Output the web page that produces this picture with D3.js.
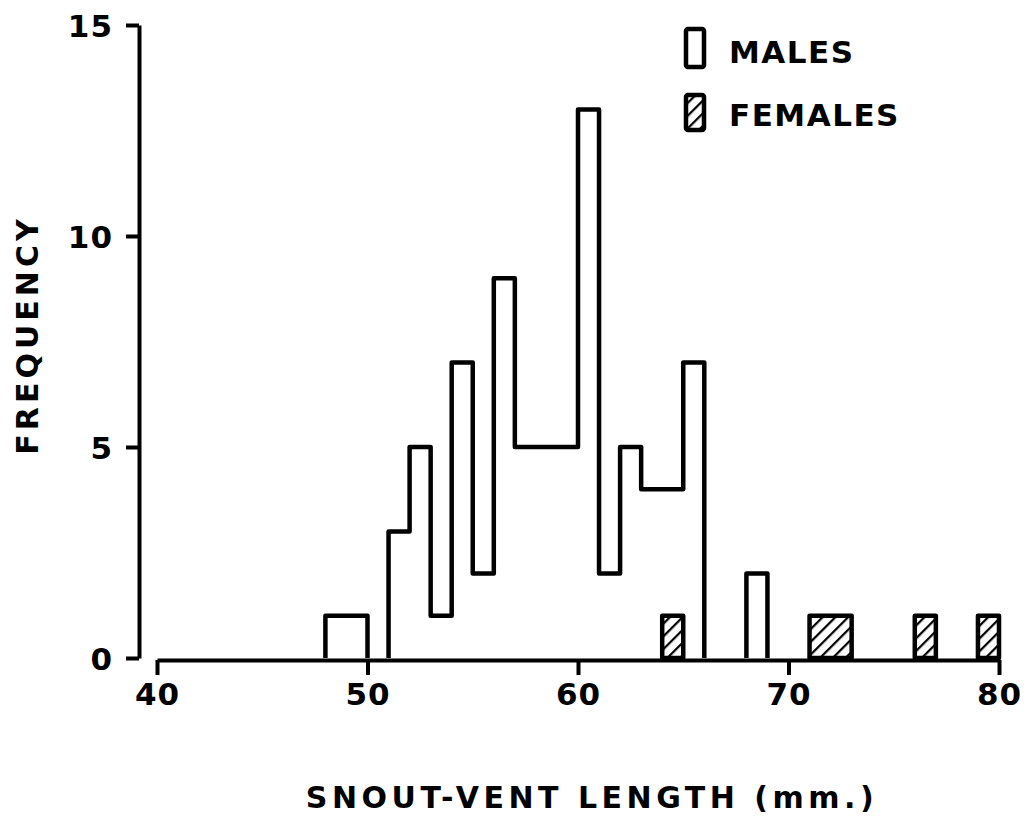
<!DOCTYPE html>
<html>
<head>
<meta charset="utf-8">
<script src="https://cdn.jsdelivr.net/npm/d3@7"></script>
<style>
  body { margin: 0; background: #fff; }
  text { font-family: "DejaVu Sans", sans-serif; font-weight: bold; fill: #000; }
</style>
</head>
<body>
<div id="chart"></div>
<script>
// 1 mm bins (bin start), counts
var maleBins = [48, 49, 50, 51, 52, 53, 54, 55, 56, 57, 58, 59, 60, 61, 62, 63, 64, 65, 66, 67, 68];
var maleCounts = [1, 1, 0, 3, 5, 1, 7, 2, 9, 5, 5, 5, 13, 2, 5, 4, 4, 7, 0, 0, 2];
var femaleBins = [64, 71, 72, 76, 79];
var femaleCounts = [1, 1, 1, 1, 1];
var xTicks = [40, 50, 60, 70, 80];
var yTicks = [0, 5, 10, 15];
var legendLabels = ["MALES", "FEMALES"];

var width = 1027, height = 820;

var x = d3.scaleLinear().domain([40, 80]).range([157, 999]);
var y = d3.scaleLinear().domain([0, 15]).range([658, 25]);

var svg = d3.select('#chart').append('svg')
    .attr('width', width)
    .attr('height', height);

// hatch for females
svg.append('defs').append('pattern')
    .attr('id', 'hatch')
    .attr('patternUnits', 'userSpaceOnUse')
    .attr('width', 9)
    .attr('height', 9)
    .attr('patternTransform', 'rotate(45)')
    .append('line')
    .attr('x1', 0).attr('y1', 0)
    .attr('x2', 0).attr('y2', 9)
    .attr('stroke', '#000')
    .attr('stroke-width', 4.5);

// group contiguous bins into runs
function runs(bins, counts, sameHeight) {
  var out = [], cur = null;
  for (var i = 0; i < bins.length; i++) {
    if (counts[i] <= 0) { cur = null; continue; }
    if (cur && cur.end === bins[i] && (!sameHeight || cur.bins[cur.bins.length - 1].c === counts[i])) {
      cur.bins.push({ b: bins[i], c: counts[i] });
      cur.end = bins[i] + 1;
    } else {
      cur = { start: bins[i], end: bins[i] + 1, bins: [{ b: bins[i], c: counts[i] }] };
      out.push(cur);
    }
  }
  return out;
}

var maleRuns = runs(maleBins, maleCounts, false);
var femaleRuns = runs(femaleBins, femaleCounts, true);

// male step outlines
svg.selectAll('path.male').data(maleRuns)
  .enter().append('path')
    .attr('class', 'male')
    .attr('fill', 'none')
    .attr('stroke', '#000')
    .attr('stroke-width', 4.5)
    .attr('stroke-linejoin', 'round')
    .attr('d', function (r) {
      var p = d3.path();
      p.moveTo(x(r.start), y(0));
      r.bins.forEach(function (d) {
        p.lineTo(x(d.b), y(d.c));
        p.lineTo(x(d.b + 1), y(d.c));
      });
      p.lineTo(x(r.end), y(0));
      return p.toString();
    });

// female hatched bars
svg.selectAll('rect.female').data(femaleRuns)
  .enter().append('rect')
    .attr('class', 'female')
    .attr('x', function (r) { return x(r.start); })
    .attr('y', function (r) { return y(r.bins[0].c); })
    .attr('width', function (r) { return x(r.end) - x(r.start); })
    .attr('height', function (r) { return y(0) - y(r.bins[0].c); })
    .attr('fill', 'url(#hatch)')
    .attr('stroke', '#000')
    .attr('stroke-width', 4.5)
    .attr('stroke-linejoin', 'round');

// axes
var yAxis = svg.append('g')
    .attr('transform', 'translate(139,0)')
    .call(d3.axisLeft(y).tickValues(yTicks).tickSize(13).tickSizeOuter(0).tickPadding(13));
var xAxis = svg.append('g')
    .attr('transform', 'translate(0,' + (y(0) + 2) + ')')
    .call(d3.axisBottom(x).tickValues(xTicks).tickSize(15).tickSizeOuter(0).tickPadding(8));

[yAxis, xAxis].forEach(function (g) {
  g.select('.domain').attr('stroke', '#000').attr('stroke-width', 4);
  g.selectAll('.tick line').attr('stroke', '#000').attr('stroke-width', 4);
  g.selectAll('.tick text')
    .style('font-family', '"DejaVu Sans", sans-serif')
    .style('font-weight', 'bold')
    .style('font-size', '31px')
    .style('letter-spacing', '1px')
    .attr('fill', '#000');
});
yAxis.selectAll('.tick text').attr('dy', '0.36em');

// axis titles
svg.append('text')
    .attr('x', 592)
    .attr('y', 808)
    .attr('text-anchor', 'middle')
    .style('font-size', '30px')
    .style('letter-spacing', '4.5px')
    .text('SNOUT-VENT LENGTH (mm.)');

svg.append('text')
    .attr('transform', 'translate(38,335) rotate(-90)')
    .attr('text-anchor', 'middle')
    .style('font-size', '30px')
    .style('letter-spacing', '4px')
    .text('FREQUENCY');

// legend
var legend = svg.append('g');
legend.append('rect')
    .attr('x', 686).attr('y', 29).attr('width', 18).attr('height', 38)
    .attr('fill', 'none').attr('stroke', '#000').attr('stroke-width', 4.5)
    .attr('rx', 2);
legend.append('rect')
    .attr('x', 686).attr('y', 95).attr('width', 18).attr('height', 35)
    .attr('fill', 'url(#hatch)').attr('stroke', '#000').attr('stroke-width', 4.5)
    .attr('rx', 2);
legend.selectAll('text').data(legendLabels)
  .enter().append('text')
    .attr('x', 729)
    .attr('y', function (d, i) { return 63 + i * 63; })
    .style('font-size', '31px')
    .style('letter-spacing', '1.5px')
    .text(function (d) { return d; });
</script>
</body>
</html>
